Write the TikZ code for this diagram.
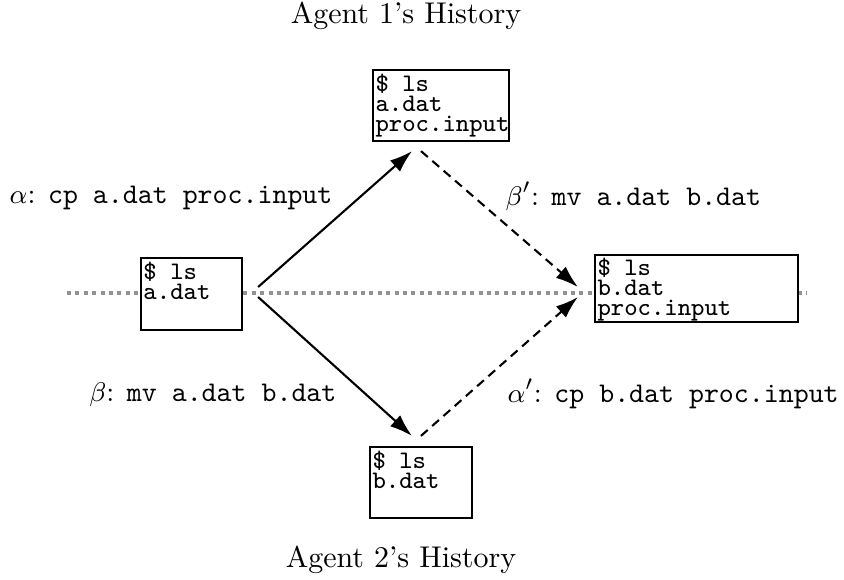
\documentclass[tikz,border=0pt]{standalone}
\usetikzlibrary{arrows.meta}
\begin{document}
\begin{tikzpicture}[x=0.33333pt,y=-0.33333pt,
  statebox/.style={draw=black,line width=0.7pt,fill=white,inner sep=0pt},
  boxtext/.style={anchor=north west,inner sep=0pt,align=left,font=\ttfamily\fontsize{8.4pt}{6.8pt}\selectfont},
  lbl/.style={inner sep=0pt,font=\fontsize{9.5pt}{11pt}\selectfont},
  title/.style={inner sep=0pt,font=\normalsize,anchor=base},
  solidarrow/.style={line width=0.7pt,-{Latex[length=7.5pt,width=5pt]}},
  dasharrow/.style={line width=0.7pt,dash pattern=on 3pt off 2pt,-{Latex[length=7.5pt,width=5pt]}},
  timeline/.style={gray!85,line width=1.1pt,dash pattern=on 1.3pt off 1.5pt}]
\useasboundingbox (0,0) rectangle (844,579);
% timeline behind the boxes
\coordinate (tl0) at (67,293);
\coordinate (tl1) at (807,293);
\draw[timeline] (tl0) -- (tl1);
% titles
\node[title] (t1) at (406,23) {Agent 1's History};
\node[title] (t2) at (401,567) {Agent 2's History};
% boxes
\node[statebox,minimum width=33.7pt,minimum height=24pt] (L) at (191.5,294) {};
\node[statebox,minimum width=45.3pt,minimum height=23.7pt] (T) at (441,105.5) {};
\node[statebox,minimum width=67.7pt,minimum height=22.3pt] (R) at (696.5,288.5) {};
\node[statebox,minimum width=34pt,minimum height=23.7pt] (B) at (421,482.5) {};
% box texts
\node[boxtext] (Lt) at ([shift={(3,4)}]L.north west) {\$ ls\\a.dat};
\node[boxtext] (Tt) at ([shift={(3,4)}]T.north west) {\$ ls\\a.dat\\proc.input};
\node[boxtext] (Rt) at ([shift={(3,3)}]R.north west) {\$ ls\\b.dat\\proc.input};
\node[boxtext] (Bt) at ([shift={(3,4)}]B.north west) {\$ ls\\b.dat};
% arrows
\draw[solidarrow] ([shift={(15,-7)}]L.east) -- ([shift={(40,9)}]T.south west);
\draw[solidarrow] ([shift={(15,3)}]L.east) -- ([shift={(43,-10)}]B.north west);
\draw[dasharrow] ([shift={(49,9)}]T.south west) -- ([shift={(-16,-1.5)}]R.west);
\draw[dasharrow] ([shift={(52,-10)}]B.north west) -- ([shift={(-16,8.5)}]R.west);
% labels
\node[lbl,anchor=base east] (la) at (333,203) {$\alpha$: \texttt{cp a.dat proc.input}};
\node[lbl,anchor=base west] (lbp) at (505,205) {$\beta'$: \texttt{mv a.dat b.dat}};
\node[lbl,anchor=base east] (lb) at (337,401) {$\beta$: \texttt{mv a.dat b.dat}};
\node[lbl,anchor=base west] (lap) at (507,402) {$\alpha'$: \texttt{cp b.dat proc.input}};
\end{tikzpicture}
\end{document}
